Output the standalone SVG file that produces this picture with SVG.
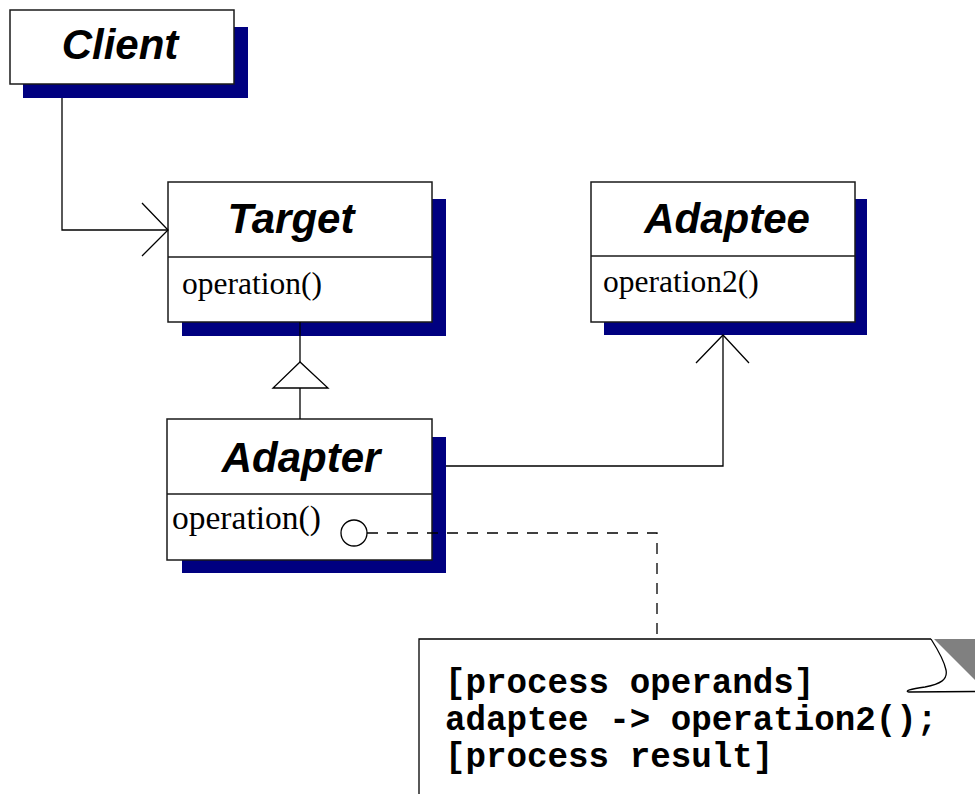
<svg xmlns="http://www.w3.org/2000/svg" width="975" height="794" viewBox="0 0 975 794">
  <style>
    .shadow { fill: #000080; }
    .box { fill: #ffffff; stroke: #1a1a1a; stroke-width: 1.5; }
    .sep { stroke: #1a1a1a; stroke-width: 1.5; }
    .title { font-family: "Liberation Sans", Arial, sans-serif; font-weight: bold; font-style: italic; font-size: 42px; fill: #000; text-anchor: middle; }
    .op { font-family: "Liberation Serif", "Times New Roman", serif; font-size: 31.5px; fill: #000; }
    .line { fill: none; stroke: #000; stroke-width: 1.3; }
    .dash { fill: none; stroke: #000; stroke-width: 1.3; stroke-dasharray: 11 9; }
    .code { font-family: "Liberation Mono", "Courier New", monospace; font-weight: bold; font-size: 34.2px; fill: #000; }
  </style>

  <rect width="975" height="794" fill="#ffffff"/>

  <!-- Client class -->
  <g id="client">
    <rect class="shadow" x="23" y="27" width="225" height="71"/>
    <rect class="box" x="10" y="10" width="224" height="74"/>
    <text class="title" x="120" y="59">Client</text>
  </g>

  <!-- Target class -->
  <g id="target">
    <rect class="shadow" x="182" y="199" width="264" height="137"/>
    <rect class="box" x="168" y="182" width="264" height="140"/>
    <line class="sep" x1="168" y1="257" x2="432" y2="257"/>
    <text class="title" x="291" y="233">Target</text>
    <text class="op" x="182" y="294">operation()</text>
  </g>

  <!-- Adaptee class -->
  <g id="adaptee">
    <rect class="shadow" x="604" y="199" width="263" height="136"/>
    <rect class="box" x="591" y="182" width="264" height="140"/>
    <line class="sep" x1="591" y1="256" x2="855" y2="256"/>
    <text class="title" x="727" y="233">Adaptee</text>
    <text class="op" x="603" y="292">operation2()</text>
  </g>

  <!-- Adapter class -->
  <g id="adapter">
    <rect class="shadow" x="182" y="437" width="264" height="136"/>
    <rect class="box" x="167" y="419" width="265" height="141"/>
    <line class="sep" x1="167" y1="494" x2="432" y2="494"/>
    <text class="title" x="301" y="472">Adapter</text>
    <text class="op" x="172" y="529" style="font-size:33.5px">operation()</text>
  </g>

  <!-- Implementation note with curled corner -->
  <g id="note">
    <path d="M419,794 V639 H931 L975,639 V794 Z" fill="#ffffff"/>
    <path class="line" d="M419,794 V639 H931"/>
    <path d="M934,639 L975,639 L975,680 Z" fill="#808080"/>
    <path d="M931,639 C938,650 944,660 946,670 C948,680 940,684 925,687 C910,689 904,691 909,692 L975,691.5" fill="#ffffff" stroke="#000" stroke-width="1.3"/>
    <text class="code" x="445" y="693">[process operands]</text>
    <text class="code" x="445" y="730">adaptee -&gt; operation2();</text>
    <text class="code" x="445" y="767">[process result]</text>
  </g>

  <!-- Connectors -->
  <g id="connectors">
    <!-- Client uses Target -->
    <polyline class="line" points="62,98 62,230 168,230"/>
    <polyline class="line" points="142,203 168,230 142,256"/>
    <!-- Adapter inherits Target -->
    <line class="line" x1="300" y1="322" x2="300" y2="362"/>
    <polygon points="300,362 273,388 328,388" fill="#ffffff" stroke="#000" stroke-width="1.3"/>
    <line class="line" x1="300" y1="388" x2="300" y2="419"/>
    <!-- Adapter references Adaptee -->
    <polyline class="line" points="446,466 723,466 723,335"/>
    <polyline class="line" points="696,363 723,335 749,363"/>
    <!-- operation() annotation link -->
    <circle class="line" cx="354" cy="533" r="13"/>
    <polyline class="dash" points="367,533 657,533 657,639"/>
  </g>
</svg>
